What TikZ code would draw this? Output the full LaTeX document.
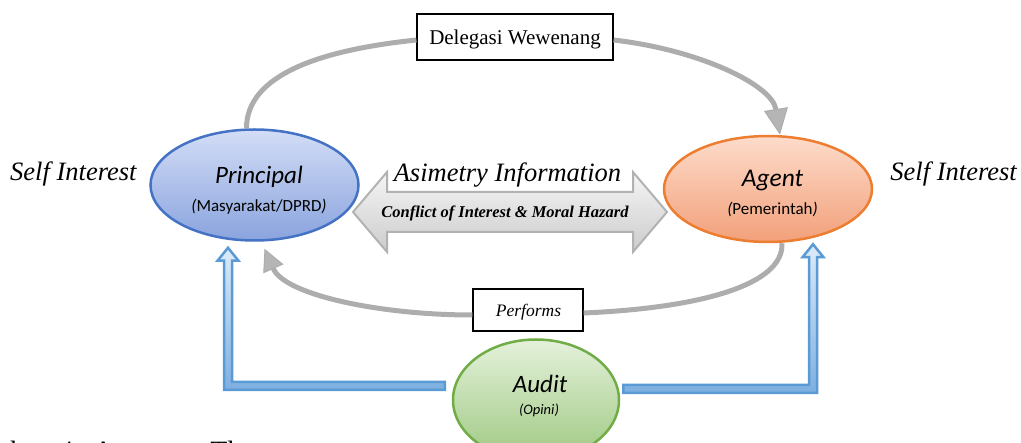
\documentclass[tikz,border=0pt]{standalone}
\usepackage{fontspec}
\setmainfont{Liberation Serif}
\newfontfamily\calib{Carlito}
\usetikzlibrary{shapes.geometric,arrows.meta,calc}
\definecolor{pblue}{HTML}{4472C4}
\definecolor{ptop}{HTML}{D3DDF6}
\definecolor{pbot}{HTML}{8AA4DE}
\definecolor{aorange}{HTML}{ED7D31}
\definecolor{atop}{HTML}{FDDCCB}
\definecolor{abot}{HTML}{F2A07A}
\definecolor{ggreen}{HTML}{70AD47}
\definecolor{gtop}{HTML}{E4F1DB}
\definecolor{gbot}{HTML}{9FC982}
\definecolor{arcgray}{HTML}{ADADAD}
\definecolor{headgray}{HTML}{B5B5B5}
\definecolor{bline}{HTML}{5B9BD5}
\definecolor{btop}{HTML}{DDEBF8}
\definecolor{bbot}{HTML}{7EAFE0}
\begin{document}
\begin{tikzpicture}[x=1pt,y=-1pt,
  actor/.style={ellipse, line width=2.5pt, inner sep=0pt},
  lblbox/.style={draw=black, line width=1.2pt, fill=white, inner sep=0pt},
  greyarc/.style={draw=arcgray, line width=5pt},
  gheadA/.style={-{Triangle[width=24pt,length=26pt,line width=1pt,fill=headgray]}},
  gheadB/.style={-{Triangle[width=22pt,length=22pt,line width=1pt,fill=headgray]}},
  bluearr/.style={draw=bline, line width=2.5pt, line join=miter, top color=btop, bottom color=bbot},
  bigarrow/.style={draw=gray!60, line width=2pt, line join=miter, top color=gray!8, bottom color=gray!40},
  serif/.style={font=\fontsize{#1}{#1}\selectfont},
  serifit/.style={font=\itshape\fontsize{#1}{#1}\selectfont},
  calibit/.style={font=\calib\itshape\fontsize{#1}{#1}\selectfont},
  calibrm/.style={font=\calib\fontsize{#1}{#1}\selectfont}
]
\useasboundingbox (0,0) rectangle (1021,443);

% nodes (ellipses and boxes)
\node[actor, draw=pblue, top color=ptop, bottom color=pbot, minimum width=208pt, minimum height=111pt] (principal) at (254.5,185) {};
\node[actor, draw=aorange, top color=atop, bottom color=abot, minimum width=208pt, minimum height=106pt] (agent) at (768,189) {};
\node[actor, draw=ggreen, top color=gtop, bottom color=gbot, minimum width=166pt, minimum height=121pt] (audit) at (536,400) {};
\node[lblbox, minimum width=196pt, minimum height=46pt] (deleg) at (515,37) {};
\node[lblbox, minimum width=110pt, minimum height=42pt] (perf) at (528,310) {};

% big double arrow
\draw[bigarrow] (353,212) -- (387,172) -- (387,192) -- (633,192) -- (633,172) -- (667,212)
  -- (633,252) -- (633,232) -- (387,232) -- (387,252) -- cycle;

% grey arcs
\draw[greyarc] ([xshift=-8pt]principal.north) .. controls (246.5,75) and (320,50) .. ([yshift=-3pt]deleg.west);
\draw[greyarc, gheadA] ([yshift=-3pt]deleg.east) .. controls (700,50) and (772,85) .. ([xshift=12pt]agent.north);
\draw[greyarc] ([xshift=14pt]agent.south) .. controls (784,285) and (700,308) .. ([yshift=-3pt]perf.east);
\draw[greyarc, gheadB] ([yshift=-5pt]perf.west) .. controls (380,315) and (285,295) .. ([xshift=10pt,yshift=-7pt]principal.south);

% blue audit arrows
\coordinate (lt) at ([xshift=-26.5pt,yshift=-6pt]principal.south);
\coordinate (ls) at ([xshift=-7pt,yshift=14pt]audit.west);
\coordinate (rt) at ([xshift=45pt,yshift=-1pt]agent.south);
\coordinate (rs) at ([xshift=3pt,yshift=11pt]audit.east);
\draw[bluearr] ($(ls)+(0,-4)$) -| ($(lt)+(4,13)$) -- ($(lt)+(10.5,13)$) -- (lt)
  -- ($(lt)+(-10.5,13)$) -- ($(lt)+(-4,13)$) |- ($(ls)+(0,4)$) -- cycle;
\draw[bluearr] ($(rs)+(0,-4)$) -| ($(rt)+(-4,13)$) -- ($(rt)+(-10.5,13)$) -- (rt)
  -- ($(rt)+(10.5,13)$) -- ($(rt)+(4,13)$) |- ($(rs)+(0,4)$) -- cycle;

% texts
\node[calibit=25, anchor=base, inner sep=0pt] (ptxt) at (259,183.4) {Principal};
\node[calibrm=17, anchor=base, inner sep=0pt] (psub) at (259,211.6) {\textit{(}Masyarakat/DPRD\textit{)}};
\node[calibit=25.5, anchor=base, inner sep=0pt] (atxt) at (772.5,186.7) {Agent};
\node[calibrm=17, anchor=base, inner sep=0pt] (asub) at (772.5,215) {\textit{(}Pemerintah\textit{)}};
\node[calibit=25, anchor=base, inner sep=0pt] (dtxt) at (540,393) {Audit};
\node[calibit=14.5, anchor=base, inner sep=0pt] (dsub) at (539,415) {(Opini)};

\node[serif=21, anchor=base, inner sep=0pt] (delegtxt) at (515,45) {Delegasi Wewenang};
\node[serifit=17.5, anchor=base, inner sep=0pt] (perftxt) at (528.5,317) {Performs};

\node[serifit=26.5, anchor=base west, inner sep=0pt] (siL) at (10,181) {Self Interest};
\node[serifit=26.5, anchor=base east, inner sep=0pt] (siR) at (1017,181) {Self Interest};

\node[serifit=26.5, anchor=base, inner sep=0pt] (asym) at (507.5,182) {Asimetry Information};
\node[font=\bfseries\itshape\fontsize{16.5}{16.5}\selectfont, anchor=base, inner sep=0pt] (coi) at (505,218) {Conflict of Interest \& Moral Hazard};

\node[serif=28, anchor=base west, inner sep=0pt] (cap) at (-44,461) {Gambar\hspace{13pt}4.\hspace{13pt}Agency\hspace{30pt}Theory};
\end{tikzpicture}
\end{document}
